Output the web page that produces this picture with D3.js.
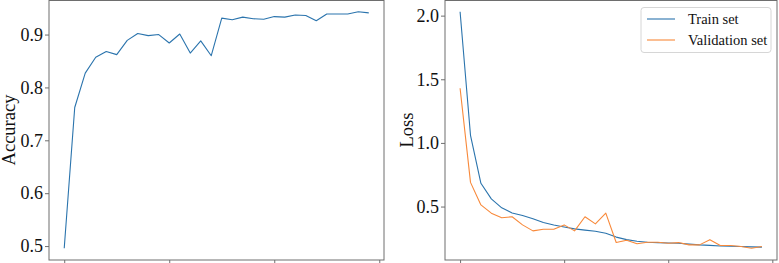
<!DOCTYPE html>
<html>
<head>
<meta charset="utf-8">
<script src="https://cdn.jsdelivr.net/npm/d3@7"></script>
<style>
  body { margin: 0; background: #fff; }
  text { font-family: "Liberation Serif", "DejaVu Serif", serif; fill: #111; }
</style>
</head>
<body>
<div id="chart"></div>
<script>
// epochs 0..29
const epochs = d3.range(30);

const accuracy = [0.496, 0.762, 0.827, 0.857, 0.868, 0.862, 0.889, 0.902, 0.898, 0.900,
                  0.884, 0.901, 0.865, 0.888, 0.860, 0.931, 0.928, 0.933, 0.930, 0.929,
                  0.934, 0.933, 0.937, 0.936, 0.926, 0.939, 0.939, 0.939, 0.943, 0.941];

const trainLoss = [2.03, 1.06, 0.683, 0.56, 0.49, 0.45, 0.43, 0.405, 0.375, 0.355,
                   0.34, 0.325, 0.315, 0.306, 0.29, 0.26, 0.24, 0.228, 0.22, 0.217,
                   0.214, 0.212, 0.205, 0.199, 0.195, 0.19, 0.188, 0.186, 0.183, 0.181];

const valLoss = [1.43, 0.69, 0.513, 0.448, 0.412, 0.42, 0.356, 0.309, 0.322, 0.322,
                 0.356, 0.309, 0.42, 0.364, 0.448, 0.218, 0.235, 0.208, 0.22, 0.22,
                 0.212, 0.217, 0.199, 0.199, 0.24, 0.194, 0.194, 0.186, 0.173, 0.186];

const xTicks = [0, 10, 20, 30];
const accTicks = [0.5, 0.6, 0.7, 0.8, 0.9];
const lossTicks = [0.5, 1.0, 1.5, 2.0];
const legendLabels = ['Train set', 'Validation set'];

const BLUE = '#2b74ad', ORANGE = '#f8893a', SPINE = '#6e6e6e';

const svg = d3.select('#chart').append('svg')
    .attr('width', 779)
    .attr('height', 263);

// pad a data extent by 5% like matplotlib does
function padded(ext) {
    let m = (ext[1] - ext[0]) * 0.05;
    return [ext[0] - m, ext[1] + m];
}

function panel(left, right, series, yTicks, yLabel, labelX) {
    let top = 0, bottom = 260;
    let x = d3.scaleLinear(padded(d3.extent(epochs)), [left, right]);
    let all = series.flatMap(s => s.values);
    let y = d3.scaleLinear(padded(d3.extent(all)), [bottom, top]);

    let g = svg.append('g');

    let line = d3.line()
        .x((d, i) => x(epochs[i]))
        .y(d => y(d));

    series.forEach(s => {
        g.append('path')
            .datum(s.values)
            .attr('fill', 'none')
            .attr('stroke', s.color)
            .attr('stroke-width', 1.1)
            .attr('stroke-linejoin', 'round')
            .attr('d', line);
    });

    // y axis
    let yAxis = g.append('g')
        .attr('transform', `translate(${left},0)`)
        .call(d3.axisLeft(y).tickValues(yTicks).tickFormat(d3.format('.1f'))
            .tickSizeInner(4).tickSizeOuter(0).tickPadding(2));
    yAxis.select('.domain').remove();
    yAxis.selectAll('line').attr('stroke', SPINE);
    yAxis.selectAll('text').attr('font-size', 18).attr('fill', '#111')
        .attr('font-family', '"Liberation Serif", serif');

    // x axis: only tick marks survive the crop
    let xAxis = g.append('g')
        .attr('transform', `translate(0,${bottom})`)
        .call(d3.axisBottom(x).tickValues(xTicks).tickFormat('')
            .tickSizeInner(4).tickSizeOuter(0));
    xAxis.select('.domain').remove();
    xAxis.selectAll('line').attr('stroke', SPINE);

    // frame
    g.append('rect')
        .attr('x', left).attr('y', top + 0.5)
        .attr('width', right - left).attr('height', bottom - top - 0.5)
        .attr('fill', 'none')
        .attr('stroke', SPINE)
        .attr('stroke-width', 1);

    g.append('text')
        .attr('transform', `translate(${labelX},${(top + bottom) / 2}) rotate(-90)`)
        .attr('text-anchor', 'middle')
        .attr('font-size', 18.5)
        .text(yLabel);

    return g;
}

panel(49, 384, [{ values: accuracy, color: BLUE }], accTicks, 'Accuracy', 15);

let lossPanel = panel(445, 777, [
    { values: trainLoss, color: BLUE },
    { values: valLoss, color: ORANGE }
], lossTicks, 'Loss', 413);

// legend
let legend = lossPanel.append('g').attr('transform', 'translate(641,7.5)');
legend.append('rect')
    .attr('width', 130).attr('height', 45).attr('rx', 3)
    .attr('fill', '#fff').attr('fill-opacity', 0.8)
    .attr('stroke', '#d6d6d6');

legendLabels.forEach((label, i) => {
    let row = legend.append('g').attr('transform', `translate(0,${11.5 + i * 21})`);
    row.append('line')
        .attr('x1', 6).attr('x2', 34)
        .attr('stroke', i === 0 ? BLUE : ORANGE)
        .attr('stroke-width', 1.1);
    row.append('text')
        .attr('x', 47).attr('dy', '0.35em')
        .attr('font-size', 14.5)
        .text(label);
});
</script>
</body>
</html>
